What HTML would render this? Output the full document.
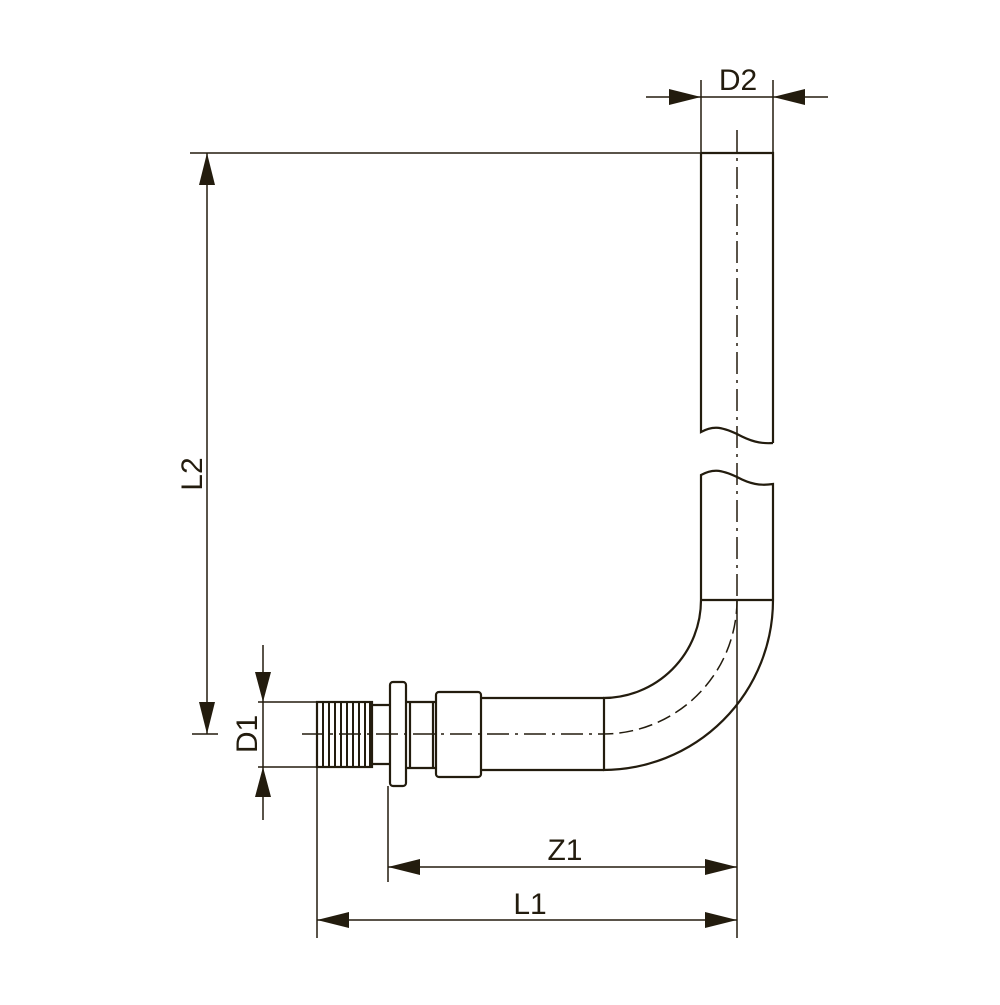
<!DOCTYPE html>
<html><head><style>html,body{margin:0;padding:0;background:#fff}</style></head><body>
<svg width="1000" height="1000" viewBox="0 0 1000 1000" xmlns="http://www.w3.org/2000/svg" font-family="Liberation Sans, sans-serif">
<g stroke="#231c0e" fill="none" stroke-width="2.2">
<!-- vertical pipe upper -->
<path d="M701 153 H773 V443"/>
<path d="M701 153 V432 C712 426 720 426 737 434 C750 441 760 444 773 443"/>
<!-- lower -->
<path d="M701 600 V475 C712 469 720 469 737 477 C750 484 760 486 773 484 V600"/>
<path d="M701 600 H773"/>
<!-- bend -->
<path d="M701 600 A98 98 0 0 1 603 698"/>
<path d="M773 600 A170 170 0 0 1 603 770"/>
<!-- horizontal pipe -->
<path d="M481 698 H604 M481 770 H604 M604 698 V770"/>
<!-- nut -->
<rect x="436" y="692" width="45" height="85" rx="3"/>
<!-- neck -->
<path d="M406 702 H436 M406 768 H436 M410 702 V768 M433 702 V768"/>
<!-- flange -->
<rect x="390" y="682" width="16" height="104" rx="3"/>
<!-- neck 2 -->
<path d="M372 705 H390 M372 764 H390"/>
<!-- thread -->
<rect x="317" y="702" width="55" height="65"/>
</g>
<g stroke="#231c0e" stroke-width="2">
<path d="M323 702V767M329 702V767M335 702V767M341 702V767M347 702V767M353 702V767M359 702V767M365 702V767M370 702V767"/>
</g>
<!-- centerlines -->
<g stroke="#231c0e" stroke-width="1.5" fill="none">
<path d="M737 130 V600" stroke-dasharray="22 6 3 6"/>
<path d="M737 600 A134 134 0 0 1 603 734" stroke-dasharray="14 6"/>
<path d="M302 734 H603" stroke-dasharray="22 6 3 6"/>
</g>
<!-- dimension lines -->
<g stroke="#231c0e" stroke-width="1.5" fill="none">
<path d="M190 153 H701"/>
<path d="M192 734 H218"/>
<path d="M207 153 V734"/>
<path d="M646 97 H828"/>
<path d="M701 80 V153 M773 80 V153"/>
<path d="M258 702 H317 M258 767 H317"/>
<path d="M263 645 V820"/>
<path d="M317 767 V938 M388 786 V882 M737 600 V938"/>
<path d="M388 867 H737 M317 920 H737"/>
</g>
<g fill="#231c0e">
<polygon points="207,153 199,185 215,185"/>
<polygon points="207,734 199,702 215,702"/>
<polygon points="701,97 669,89 669,105"/>
<polygon points="773,97 805,89 805,105"/>
<polygon points="263,702 255,672 271,672"/>
<polygon points="263,767 255,797 271,797"/>
<polygon points="388,867 420,859 420,875"/>
<polygon points="737,867 705,859 705,875"/>
<polygon points="317,920 349,912 349,928"/>
<polygon points="737,920 705,912 705,928"/>
</g>
<g fill="#231c0e" font-size="30">
<text x="738" y="90" text-anchor="middle">D2</text>
<text x="565" y="860" text-anchor="middle">Z1</text>
<text x="530" y="914" text-anchor="middle">L1</text>
<text transform="translate(202,474) rotate(-90)" text-anchor="middle">L2</text>
<text transform="translate(257,734) rotate(-90)" text-anchor="middle">D1</text>
</g>
</svg>
</body></html>
